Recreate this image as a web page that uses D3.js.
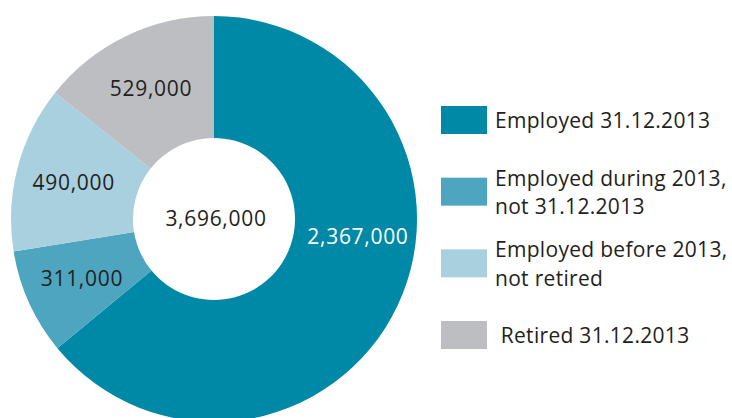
<!DOCTYPE html>
<html>
<head>
<meta charset="utf-8">
<script src="https://cdn.jsdelivr.net/npm/d3@7"></script>
<style>
  body { margin: 0; background: #fff; }
  text { font-family: "Open Sans", sans-serif; letter-spacing: 0.7px; }
  .legend text { letter-spacing: 0.3px; }
</style>
</head>
<body>
<script>
var categories = ["Employed 31.12.2013", "Employed during 2013, not 31.12.2013", "Employed before 2013, not retired", "Retired 31.12.2013"];
var legendLines = [["Employed 31.12.2013"], ["Employed during 2013,", "not 31.12.2013"], ["Employed before 2013,", "not retired"], [" Retired 31.12.2013"]];
var values = [2367000, 311000, 490000, 529000];
var valueLabels = ["2,367,000", "311,000", "490,000", "529,000"];
var totalLabel = "3,696,000";
var colors = ["#0089a6", "#4ea5bf", "#a9d0df", "#bdbec2"];

var width = 732,
    height = 418;

var svg = d3.select("body").append("svg")
    .attr("width", width)
    .attr("height", height);

var cx = 214, cy = 219, outerR = 203, innerR = 81;

var pie = d3.pie().sort(null).value(function(d) { return d; });
var arcs = pie(values);

var arc = d3.arc().innerRadius(innerR).outerRadius(outerR);

var g = svg.append("g")
    .attr("transform", "translate(" + cx + "," + cy + ")");

g.selectAll(".slice")
    .data(arcs)
  .enter().append("path")
    .attr("class", "slice")
    .attr("d", arc)
    .attr("fill", function(d, i) { return colors[i]; });

// label position: mid angle, except the big slice which is pulled up next to the hole
function labelPos(d) {
  var a = (d.endAngle - d.startAngle) > Math.PI
    ? d.startAngle + (d.endAngle - d.startAngle) * 0.42
    : (d.startAngle + d.endAngle) / 2;
  var r = 145;
  return [r * Math.sin(a), -r * Math.cos(a)];
}

g.selectAll(".label")
    .data(arcs)
  .enter().append("text")
    .attr("class", "label")
    .attr("x", function(d) { return labelPos(d)[0]; })
    .attr("y", function(d) { return labelPos(d)[1]; })
    .attr("dy", "0.35em")
    .attr("text-anchor", "middle")
    .attr("font-size", 21)
    .attr("fill", function(d, i) { return i === 0 ? "#fff" : "#231f20"; })
    .text(function(d, i) { return valueLabels[i]; });

g.append("text")
    .attr("x", 2)
    .attr("y", 0)
    .attr("dy", "0.35em")
    .attr("text-anchor", "middle")
    .attr("font-size", 21)
    .attr("fill", "#231f20")
    .text(totalLabel);

// legend
var legendY = d3.scalePoint().domain(d3.range(categories.length)).range([106, 321]);

var legend = svg.append("g").selectAll(".legend")
    .data(categories)
  .enter().append("g")
    .attr("class", "legend")
    .attr("transform", function(d, i) { return "translate(441," + legendY(i) + ")"; });

legend.append("rect")
    .attr("width", 46)
    .attr("height", 28)
    .attr("fill", function(d, i) { return colors[i]; });

legend.append("text")
    .attr("x", 54)
    .attr("font-size", 21)
    .attr("fill", "#231f20")
    .attr("xml:space", "preserve")
    .each(function(d, i) {
      var lines = legendLines[i];
      var t = d3.select(this);
      var y0 = lines.length === 1 ? 22 : 8;
      lines.forEach(function(l, j) {
        t.append("tspan")
          .attr("x", 54)
          .attr("y", y0 + j * 28.5)
          .text(l);
      });
    });
</script>
</body>
</html>
